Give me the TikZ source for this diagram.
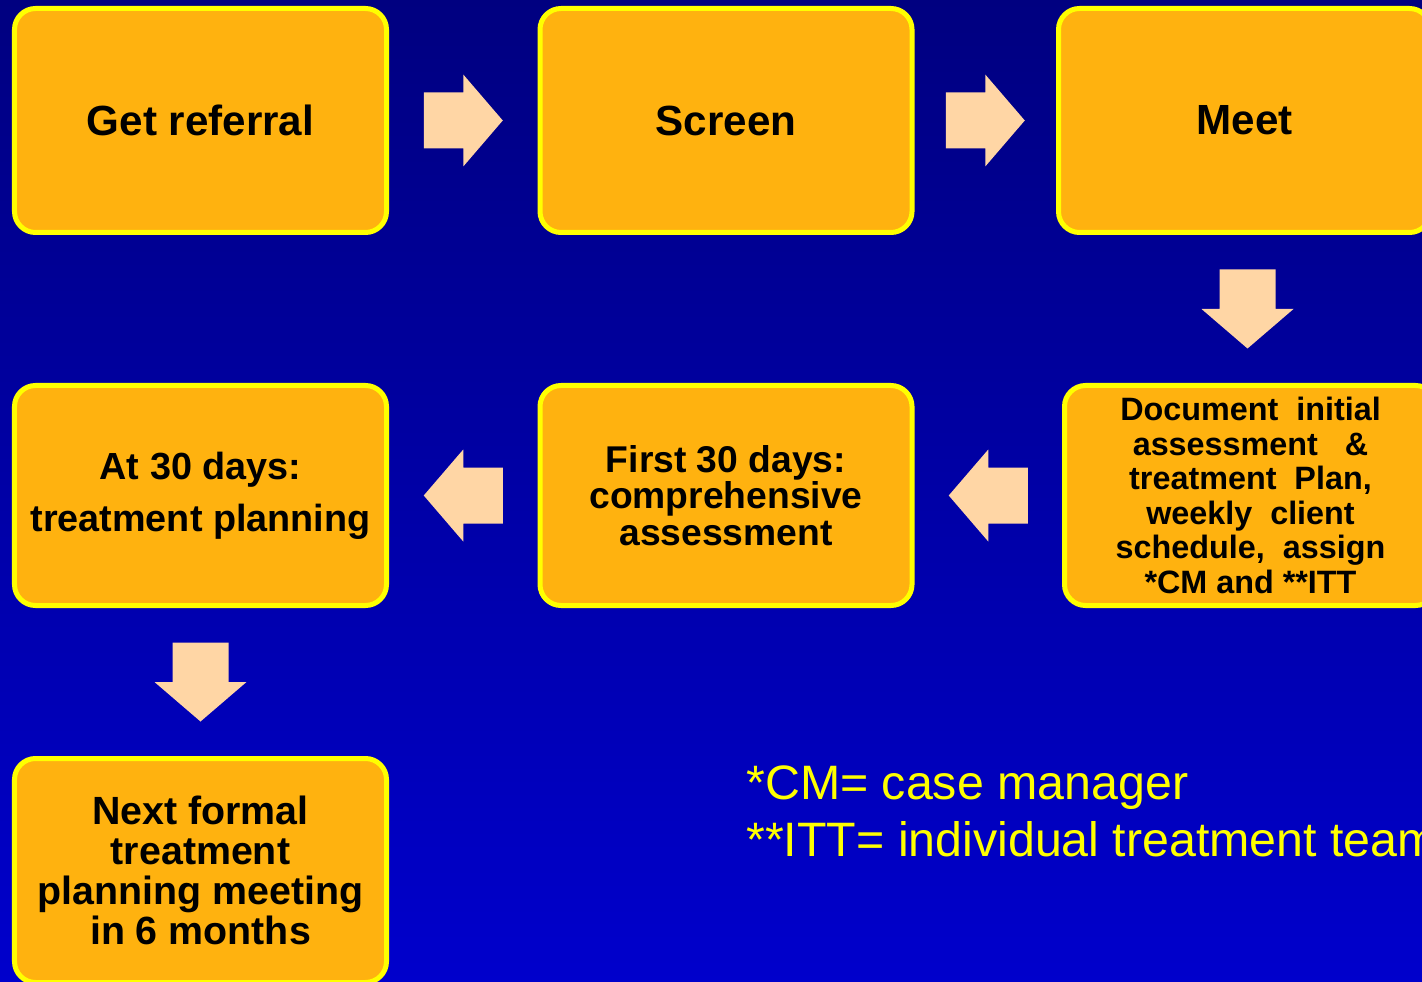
\documentclass[tikz,border=0pt]{standalone}
\usepackage{fontspec}
\setmainfont{Liberation Sans}
\definecolor{slidetop}{RGB}{0, 0, 128}
\definecolor{slidebottom}{RGB}{0, 0, 204}
\definecolor{boxorange}{RGB}{255, 178, 15}
\definecolor{boxyellow}{RGB}{255, 255, 0}
\definecolor{peach}{RGB}{255, 214, 165}
\usetikzlibrary{calc}
\tikzset{blockarrow/.pic={
    \fill[peach] (-0.79,-0.56) -- (0,-0.56) -- (0,-0.92) -- (0.79,0)
      -- (0,0.92) -- (0,0.56) -- (-0.79,0.56) -- cycle;}}

\begin{document}
\begin{tikzpicture}[
    flowbox/.style={draw=boxyellow, line width=0.1cm, fill=boxorange, text=black,
      rounded corners=0.42cm, minimum width=7.44cm, minimum height=4.48cm,
      inner sep=0pt, align=center},
    bigtext/.style={font=\fontsize{24}{26}\selectfont\bfseries}]
    \clip (0,0) rectangle (28.44,-19.64);
    \shade[top color=slidetop, bottom color=slidebottom] (0,0) rectangle (28.44,-19.64);

    \node[flowbox, bigtext] (get) at (4.01,-2.41) {Get referral};
    \node[flowbox, bigtext] (screen) at (14.52,-2.41) {Screen};
    \node[flowbox, bigtext] (meet) at (24.89,-2.41) {Meet};
    \node[flowbox, minimum height=4.4cm, font=\fontsize{18.4}{19.7}\selectfont\bfseries] (doc) at (25.01,-9.91)
      {Document\ \ initial\\ assessment\ \ \ \&\\ treatment\ \ Plan,\\ weekly\ \ client\\ schedule,\ \ assign\\ *CM and **ITT};
    \node[flowbox, minimum height=4.4cm, font=\fontsize{21.2}{20.8}\selectfont\bfseries] (first) at (14.52,-9.91)
      {First 30 days:\\ comprehensive\\ assessment};
    \node[flowbox, minimum height=4.4cm, font=\fontsize{21.5}{29.6}\selectfont\bfseries] (plan30) at (4.01,-9.91)
      {At 30 days:\\ treatment planning};
    \node[flowbox, font=\fontsize{22.4}{22.8}\selectfont\bfseries] (next) at (4.01,-17.41)
      {Next formal\\ treatment\\ planning meeting\\ in 6 months};

    \pic at ($(get.east)!0.5!(screen.west)$) {blockarrow};
    \pic at ($(screen.east)!0.5!(meet.west)$) {blockarrow};
    \pic[rotate=-90] at ($(meet.south)!0.5!(doc.north)$) {blockarrow};
    \pic[rotate=180] at ($(doc.west)!0.5!(first.east)$) {blockarrow};
    \pic[rotate=180] at ($(first.west)!0.5!(plan30.east)$) {blockarrow};
    \pic[rotate=-90] at ($(plan30.south)!0.5!(next.north)$) {blockarrow};

    \node[anchor=north west, inner sep=0pt, align=left, text=boxyellow,
      font=\fontsize{27.5}{32.4}\selectfont] (notes) at (14.92,-15.3)
      {*CM= case manager\\ **ITT= individual treatment team};
\end{tikzpicture}
\end{document}
